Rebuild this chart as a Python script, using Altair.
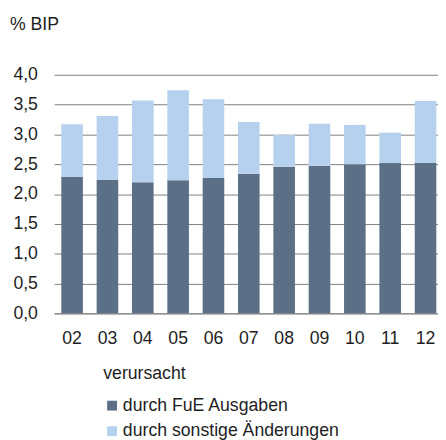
import altair as alt
import pandas as pd

years = ["02", "03", "04", "05", "06", "07", "08", "09", "10", "11", "12"]
fue = [2.29, 2.24, 2.20, 2.23, 2.27, 2.34, 2.46, 2.47, 2.50, 2.52, 2.52]
sonstige = [0.88, 1.07, 1.37, 1.51, 1.32, 0.87, 0.53, 0.71, 0.66, 0.51, 1.04]
series = ["durch FuE Ausgaben", "durch sonstige Änderungen"]
colors = ["#5b7086", "#b5d1ee"]
y_ticks = [0, 0.5, 1.0, 1.5, 2.0, 2.5, 3.0, 3.5, 4.0]

rows = []
for i, yr in enumerate(years):
    rows.append({"Jahr": yr, "Komponente": series[0], "Wert": fue[i], "o": 0})
    rows.append({"Jahr": yr, "Komponente": series[1], "Wert": sonstige[i], "o": 1})
df = pd.DataFrame(rows)

FONT = "Liberation Sans"
TXT = "#1e1e1e"
FS = 18

chart = alt.Chart(df).mark_bar().encode(
    x=alt.X(
        "Jahr:O", sort=years,
        scale=alt.Scale(paddingInner=0.389, paddingOuter=0.125, align=0.81),
        axis=alt.Axis(title=None, labelAngle=0, ticks=False, domain=True,
                      domainColor="#808080", labelPadding=17, labelFontSize=FS,
                      labelColor=TXT, labelFont=FONT),
    ),
    y=alt.Y(
        "Wert:Q", stack="zero",
        scale=alt.Scale(domain=[0, 4], nice=False),
        axis=alt.Axis(title=None, values=y_ticks,
                      labelExpr="replace(format(datum.value, '.1f'), '.', ',')",
                      grid=True, gridColor="#808080", gridWidth=1, domain=False,
                      ticks=False, labelPadding=17, labelFontSize=FS,
                      labelColor=TXT, labelFont=FONT),
    ),
    color=alt.Color(
        "Komponente:N",
        scale=alt.Scale(domain=series, range=colors),
        legend=alt.Legend(title="verursacht", orient="none", legendX=50, legendY=296,
                          direction="vertical", symbolType="square", symbolSize=100,
                          symbolStrokeWidth=0, labelFontSize=FS, titleFontSize=FS,
                          titleFontWeight="normal", labelFont=FONT, titleFont=FONT,
                          labelColor=TXT, titleColor=TXT, rowPadding=8,
                          titlePadding=14, labelOffset=2, labelLimit=400),
    ),
    order=alt.Order("o:Q"),
).properties(
    width=391, height=243,
    autosize="none",
    padding={"left": 47, "top": 64, "right": 0, "bottom": 128},
    title=alt.TitleParams(text="% BIP", anchor="start", frame="group", dx=-45,
                          offset=19, baseline="alphabetic", fontSize=FS,
                          fontWeight="normal", font=FONT, color=TXT),
).configure_view(stroke=None)

chart.save("out.html", embed_options={"renderer": "svg", "actions": False})
